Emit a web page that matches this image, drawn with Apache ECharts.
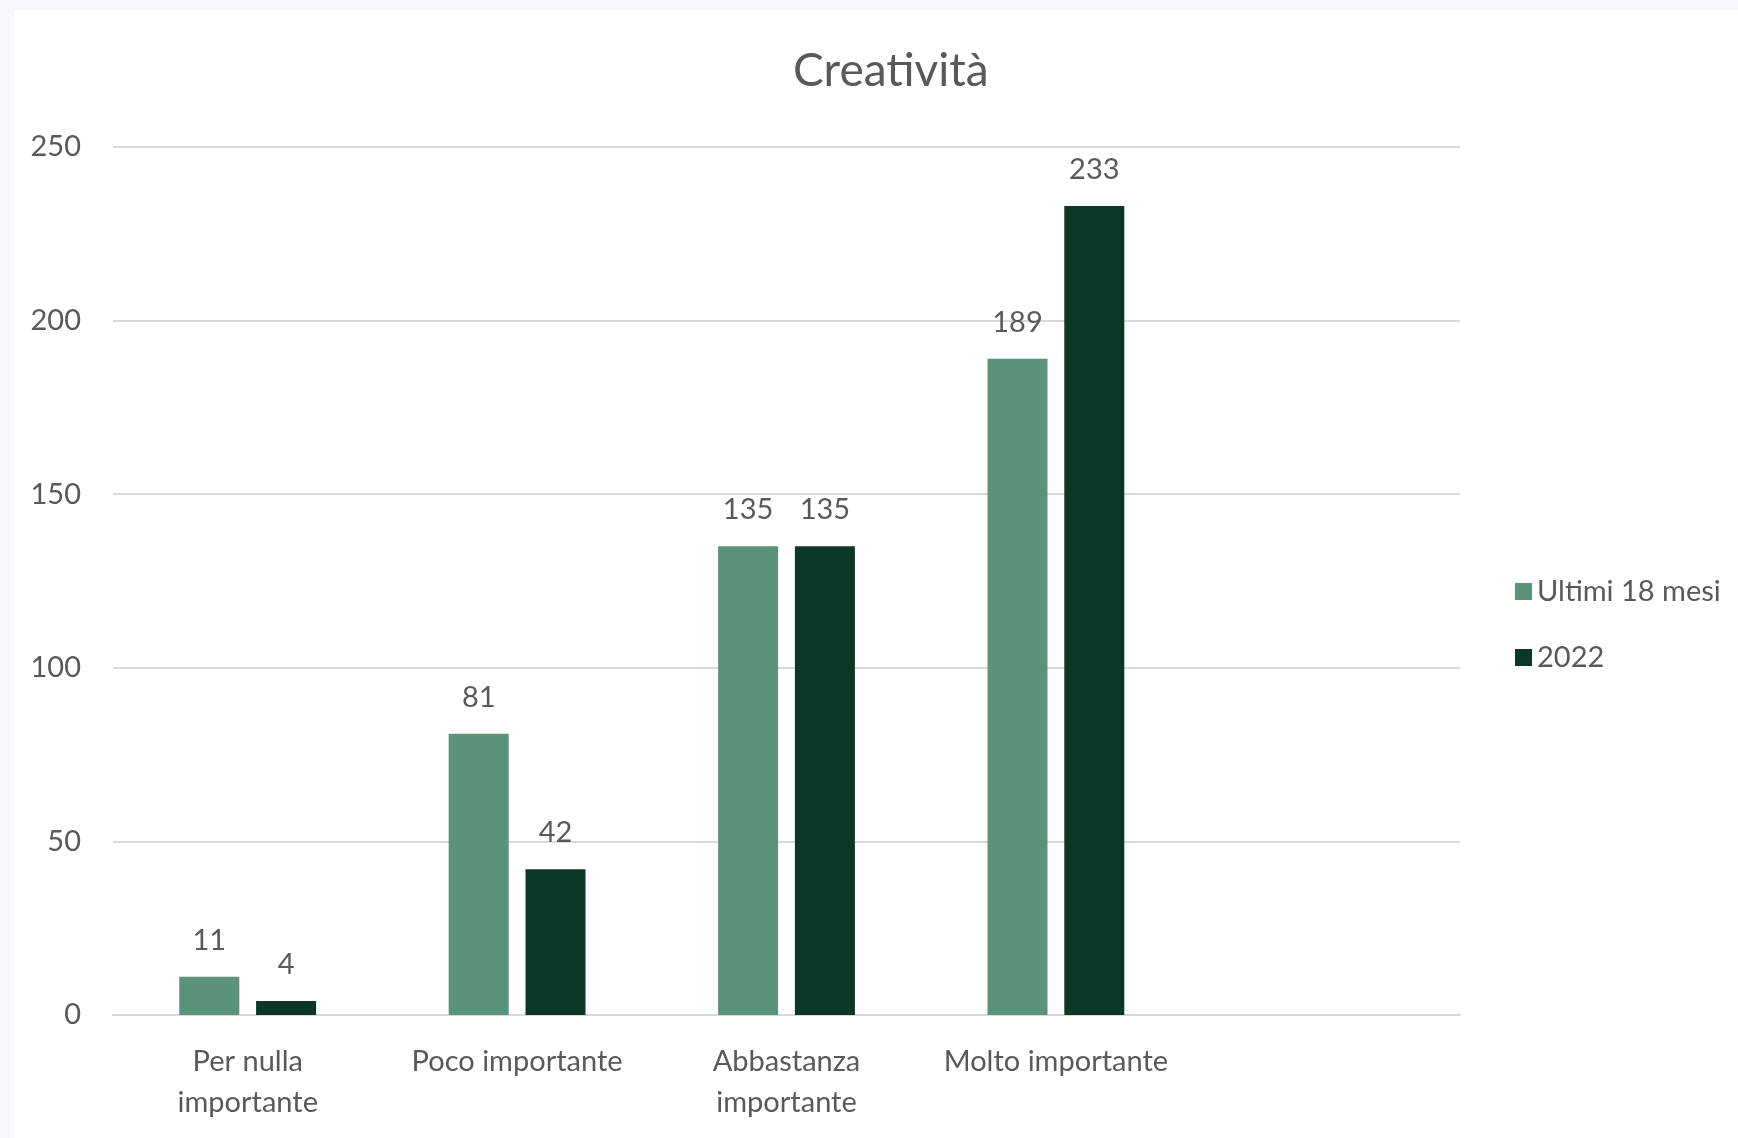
<!DOCTYPE html>
<html>
<head>
<meta charset="utf-8">
<script src="https://cdn.jsdelivr.net/npm/echarts@6/dist/echarts.min.js"></script>
<style>
html,body{margin:0;padding:0;background:#f5f7fc;width:1738px;height:1138px;overflow:hidden;}
#chart{position:absolute;left:14px;top:10px;width:1724px;height:1128px;background:#ffffff;}
</style>
</head>
<body>
<div id="chart"></div>
<script>
const titleText = 'Creatività';
const categories = ['Per nulla\nimportante', 'Poco importante', 'Abbastanza\nimportante', 'Molto importante', ''];
const seriesNames = ['Ultimi 18 mesi', '2022'];
const ultimi18Mesi = [11, 81, 135, 189, null];
const anno2022 = [4, 42, 135, 233, null];
const yTicks = { min: 0, max: 250, interval: 50 };

const FONT = 'Lato';
const TXT = '#595959';
const chart = echarts.init(document.getElementById('chart'), null, { renderer: 'canvas' });
chart.setOption({
  animation: false,
  backgroundColor: '#ffffff',
  title: {
    text: titleText,
    left: 774,
    top: 33,
    textStyle: { fontFamily: FONT, fontSize: 46, fontWeight: 'normal', color: TXT }
  },
  legend: {
    orient: 'vertical',
    left: 1496,
    top: 562,
    itemWidth: 17,
    itemHeight: 17,
    itemGap: 37,
    icon: 'rect',
    textStyle: { fontFamily: FONT, fontSize: 29, color: TXT },
    data: seriesNames
  },
  grid: { left: 99, right: 278, top: 137, bottom: 123, containLabel: false },
  xAxis: {
    type: 'category',
    data: categories,
    axisLine: { show: true, lineStyle: { color: '#d9d9d9', width: 2 } },
    axisTick: { show: false },
    axisLabel: { fontFamily: FONT, fontSize: 29, color: TXT, margin: 26, lineHeight: 41, interval: 0 }
  },
  yAxis: {
    type: 'value',
    min: yTicks.min,
    max: yTicks.max,
    interval: yTicks.interval,
    axisLine: { show: false },
    axisTick: { show: false },
    axisLabel: { fontFamily: FONT, fontSize: 29, color: TXT, margin: 32 },
    splitLine: { lineStyle: { color: '#d9d9d9', width: 2 } }
  },
  series: [
    {
      name: seriesNames[0],
      type: 'bar',
      data: ultimi18Mesi,
      barWidth: 60,
      barGap: '28%',
      itemStyle: { color: '#5b927a' },
      label: { show: true, position: 'top', distance: 22, fontFamily: FONT, fontSize: 29, color: TXT }
    },
    {
      name: seriesNames[1],
      type: 'bar',
      data: anno2022,
      barWidth: 60,
      barGap: '28%',
      itemStyle: { color: '#0b3724' },
      label: { show: true, position: 'top', distance: 22, fontFamily: FONT, fontSize: 29, color: TXT }
    }
  ]
});
</script>
</body>
</html>
